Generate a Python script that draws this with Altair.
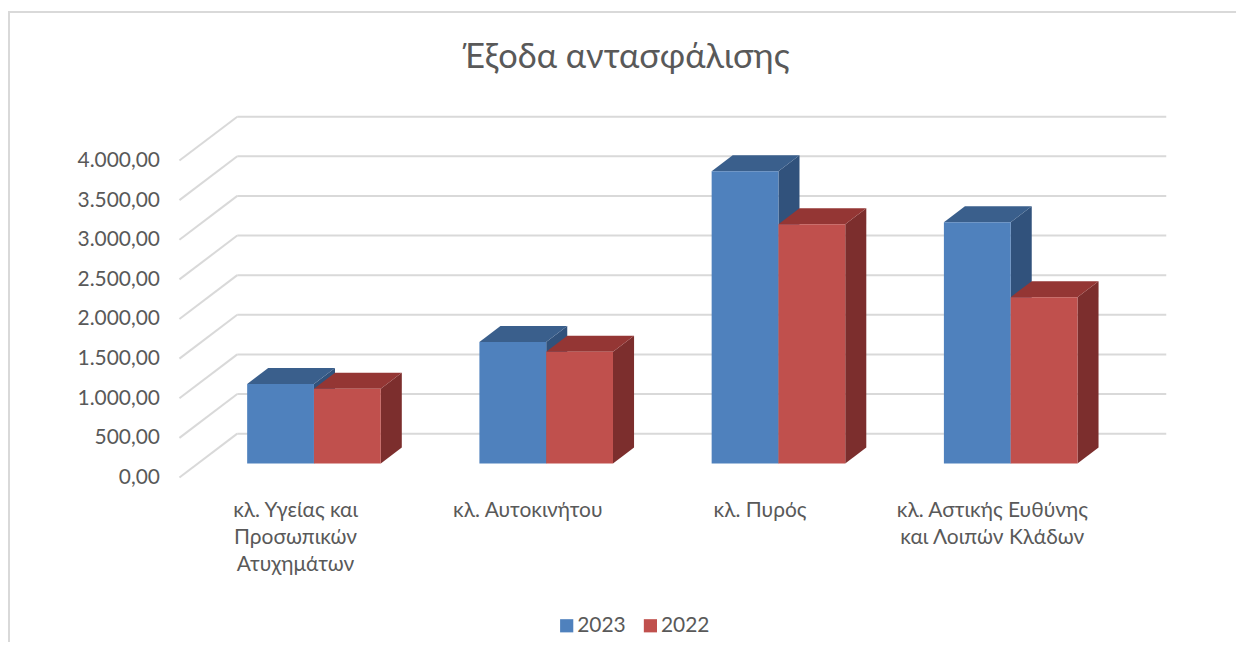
import altair as alt
import pandas as pd

# ---------------- data ----------------
TITLE = "Έξοδα αντασφάλισης"
CATEGORIES = [
    "κλ. Υγείας και Προσωπικών Ατυχημάτων",
    "κλ. Αυτοκινήτου",
    "κλ. Πυρός",
    "κλ. Αστικής Ευθύνης και Λοιπών Κλάδων",
]
LABEL_LINES = [
    ["κλ. Υγείας και", "Προσωπικών", "Ατυχημάτων"],
    ["κλ. Αυτοκινήτου"],
    ["κλ. Πυρός"],
    ["κλ. Αστικής Ευθύνης", "και Λοιπών Κλάδων"],
]
SERIES = ["2023", "2022"]
VALUES_2023 = [1005, 1535, 3690, 3045]
VALUES_2022 = [945, 1410, 3020, 2100]
Y_TICKS = [0, 500, 1000, 1500, 2000, 2500, 3000, 3500, 4000]

# ---------------- 3D style parameters ----------------
DEPTH_X = 0.249      # floor depth in category units
DEPTH_Y = 553.5      # floor depth in value units
BAR_W = 0.2876       # bar width in category units
FRONT = 0.318        # depth fraction of bar front face
BACK = 0.682         # depth fraction of bar back face
N = len(CATEGORIES)

FRONT_COL = {"2023": "#4F81BD", "2022": "#C0504D"}
TOP_COL = {"2023": "#3A5F8C", "2022": "#943634"}
SIDE_COL = {"2023": "#31527C", "2022": "#7C2E2D"}
GRID = "#D9D9D9"
TXT = "#595959"
FONT = "Lato"

color_domain, color_range = [], []
for s in SERIES:
    for face, cmap in (("front", FRONT_COL), ("top", TOP_COL), ("side", SIDE_COL)):
        color_domain.append(f"{s}_{face}")
        color_range.append(cmap[s])

dx = (BACK - FRONT) * DEPTH_X
dy = (BACK - FRONT) * DEPTH_Y

front_rows, top_rows, side_rows = [], [], []
for si, (s, vals) in enumerate(zip(SERIES, [VALUES_2023, VALUES_2022])):
    for i, (cat, v) in enumerate(zip(CATEGORIES, vals)):
        center = i + 0.5 + FRONT * DEPTH_X
        x0 = center - BAR_W + si * BAR_W
        x1 = x0 + BAR_W
        y0 = FRONT * DEPTH_Y
        y1 = v + FRONT * DEPTH_Y
        bid = f"{s}_{i}"
        front_rows.append(dict(series=s, cat=cat, value=v, x=x0, x2=x1, y=y0, y2=y1,
                               key=f"{s}_front", bid=bid))
        top_rows.append(dict(series=s, key=f"{s}_top", bid=bid, y=y1, x=x0, x2=x1))
        top_rows.append(dict(series=s, key=f"{s}_top", bid=bid, y=y1 + dy, x=x0 + dx, x2=x1 + dx))
        side_rows.append(dict(series=s, key=f"{s}_side", bid=bid, x=x1, y=y0, y2=y1))
        side_rows.append(dict(series=s, key=f"{s}_side", bid=bid, x=x1 + dx, y=y0 + dy, y2=y1 + dy))

front_df = pd.DataFrame(front_rows)
top_df = pd.DataFrame(top_rows)
side_df = pd.DataFrame(side_rows)

grid_df = pd.DataFrame({
    "t": Y_TICKS,
    "wx": [DEPTH_X] * len(Y_TICKS),
    "wx2": [N + DEPTH_X] * len(Y_TICKS),
    "wy": [t + DEPTH_Y for t in Y_TICKS],
    "dx0": [0.0] * len(Y_TICKS),
})

lab_df = pd.DataFrame({
    "pos": [i + 0.5 for i in range(N)],
    "label": ["\n".join(l) for l in LABEL_LINES],
})

xs = alt.Scale(domain=[0, N + DEPTH_X], nice=False, zero=False)
ys = alt.Scale(domain=[0, Y_TICKS[-1] + DEPTH_Y], nice=False, zero=False)
cs = alt.Scale(domain=color_domain, range=color_range)

YAX = alt.Axis(
    values=Y_TICKS, domain=False, ticks=False, grid=False, title=None,
    labelPadding=20, labelFontSize=21, labelFont=FONT, labelColor=TXT,
    labelExpr="replace(replace(replace(format(datum.value, ',.2f'), ',', '#'), '.', ','), '#', '.')",
)
X_NOAX = dict(scale=xs, axis=None)
Y_KW = dict(scale=ys, axis=YAX)

wall = alt.Chart(grid_df).mark_rule(color=GRID, strokeWidth=2).encode(
    x=alt.X("wx:Q", **X_NOAX), x2="wx2:Q",
    y=alt.Y("wy:Q", **Y_KW),
)
diag = alt.Chart(grid_df).mark_rule(color=GRID, strokeWidth=2).encode(
    x=alt.X("dx0:Q", **X_NOAX), x2="wx:Q",
    y=alt.Y("t:Q", **Y_KW), y2="wy:Q",
)

legend = alt.Legend(
    values=["2023_front", "2022_front"], orient="none", legendX=378, legendY=500,
    direction="horizontal", title=None, labelExpr="split(datum.label, '_')[0]",
    symbolType="square", symbolSize=175, symbolStrokeWidth=0, padding=0,
    labelFontSize=21, labelFont=FONT, labelColor=TXT, columnPadding=14, labelOffset=0,
)

layers = [wall, diag]
for s in SERIES:
    side = alt.Chart(side_df[side_df.series == s]).mark_area(orient="vertical").encode(
        x=alt.X("x:Q", **X_NOAX), y=alt.Y("y:Q", **Y_KW), y2="y2:Q",
        detail="bid:N", color=alt.Color("key:N", scale=cs, legend=legend),
    )
    top = alt.Chart(top_df[top_df.series == s]).mark_area(orient="horizontal").encode(
        y=alt.Y("y:Q", **Y_KW), x=alt.X("x:Q", **X_NOAX), x2="x2:Q",
        detail="bid:N", color=alt.Color("key:N", scale=cs, legend=legend),
    )
    front = alt.Chart(front_df[front_df.series == s]).mark_rect().encode(
        x=alt.X("x:Q", **X_NOAX), x2="x2:Q",
        y=alt.Y("y:Q", **Y_KW), y2="y2:Q",
        color=alt.Color("key:N", scale=cs, legend=legend),
        tooltip=["cat:N", "series:N", "value:Q"],
    )
    layers += [side, top, front]

labels = alt.Chart(lab_df).mark_text(
    font=FONT, fontSize=21, color=TXT, align="center", baseline="alphabetic",
    lineBreak="\n", lineHeight=27,
).encode(x=alt.X("pos:Q", **X_NOAX), y=alt.value(402), text="label:N")

title = alt.Chart(lab_df.head(1)).mark_text(
    font=FONT, fontSize=34.5, color=TXT, align="center", baseline="alphabetic",
).encode(x=alt.value(448), y=alt.value(-49), text=alt.value(TITLE))

border_top = alt.Chart(lab_df.head(1)).mark_rule(color=GRID, strokeWidth=2).encode(
    x=alt.value(-172), x2=alt.value(1060), y=alt.value(-105))
border_left = alt.Chart(lab_df.head(1)).mark_rule(color=GRID, strokeWidth=2).encode(
    x=alt.value(-171), y=alt.value(-105), y2=alt.value(540))

chart = alt.layer(border_top, border_left, *layers, labels, title).properties(
    width=990, height=362,
    background="white",
    autosize=alt.AutoSizeParams(type="none"),
    padding={"left": 172, "top": 108, "right": 78, "bottom": 164},
).configure_view(stroke=None)

chart.save("out.html", embed_options={"renderer": "svg", "actions": False})
